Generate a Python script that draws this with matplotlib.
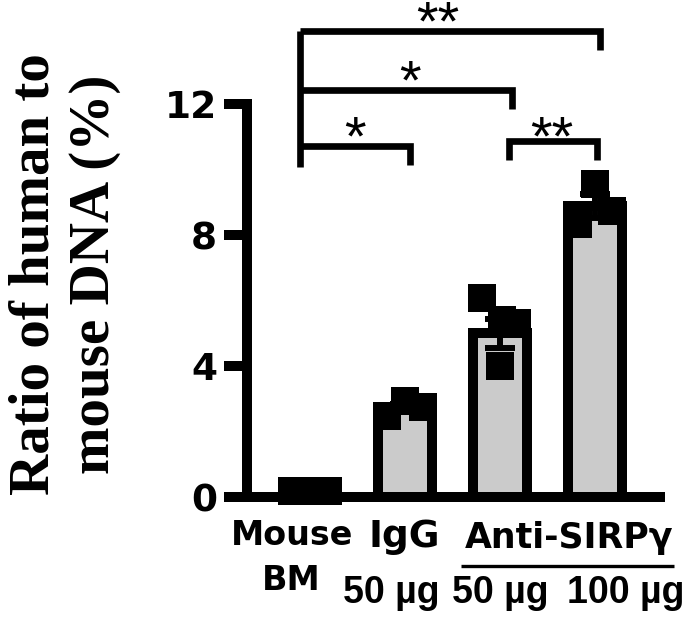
import matplotlib
matplotlib.use("Agg")
import matplotlib.pyplot as plt
import numpy as np

# ---------------- data ----------------
categories = ["Mouse BM", "IgG 50 µg", "Anti-SIRPγ 50 µg", "Anti-SIRPγ 100 µg"]
bar_means = [0.17, 2.72, 5.0, 8.88]
bar_sem = [0.03, 0.13, 0.45, 0.36]

pts_mouse = [0.17, 0.17, 0.17]
pts_igg = [2.47, 2.93, 2.75]
pts_anti50 = [6.08, 5.40, 5.31, 4.0]
pts_anti100 = [9.56, 8.34, 8.73]
points = [pts_mouse, pts_igg, pts_anti50, pts_anti100]
# horizontal jitter of points (category units)
jitter = [[-0.19, 0.0, 0.19],
          [-0.19, 0.0, 0.19],
          [-0.19, 0.02, 0.18, 0.0],
          [0.0, -0.18, 0.18]]

yticks = [0, 4, 8, 12]
sig_labels = ["*", "*", "**", "**"]

# ---------------- figure ----------------
W, H = 697, 628
fig = plt.figure(figsize=(W / 100, H / 100), dpi=100)
ax = fig.add_axes([224 / W, (H - 497) / H, 441 / W, 393 / H])

x = np.arange(len(categories))
ax.bar(x, bar_means, width=0.568, color="#cbcbcb", edgecolor="black",
       linewidth=7.2, zorder=2)
ax.errorbar(x, bar_means, yerr=bar_sem, fmt="none", ecolor="black",
            elinewidth=4.3, capsize=10.8, capthick=4.3, zorder=3)
for i, (vals, jit) in enumerate(zip(points, jitter)):
    ax.plot(np.array(jit) + x[i], vals, linestyle="none", marker="s",
            markersize=20, color="black", markeredgewidth=0, zorder=4,
            clip_on=False)

ax.set_xlim(-0.905, 3.737)
ax.set_ylim(0, 12)
ax.set_yticks(yticks)
ax.set_xticks([])
for s in ["top", "right"]:
    ax.spines[s].set_visible(False)
ax.spines["left"].set_position(("data", -0.663))
ax.spines["left"].set_linewidth(7.2)
ax.spines["bottom"].set_linewidth(7.2)
ax.spines["bottom"].set_capstyle("butt")
ax.tick_params(axis="y", length=16.6, width=7.2, pad=5, direction="out")
for lab in ax.get_yticklabels():
    lab.set_fontfamily("DejaVu Sans")
    lab.set_fontweight("bold")
    lab.set_fontsize(27)

# x category labels
sans_wide = dict(family="DejaVu Sans", fontweight="bold", ha="center",
                 va="baseline", clip_on=False)
sans_arial = dict(family="Liberation Sans", fontweight="bold", ha="center",
                  va="baseline", clip_on=False)
ax.text(x[0] - 0.19, -1.47, "Mouse", fontsize=24, **sans_wide)
ax.text(x[0] - 0.20, -2.84, "BM", fontsize=24, **sans_wide)
ax.text(x[1] - 0.01, -1.53, "IgG", fontsize=27, **sans_wide)
ax.text(x[1] - 0.14, -3.24, "50 µg", fontsize=27, **sans_arial)
ax.text(2.73, -1.56, "Anti-SIRPγ", fontsize=25, **sans_wide)
ax.plot([1.59, 3.83], [-2.11, -2.11], color="black", lw=2.4, clip_on=False,
        solid_capstyle="butt")
ax.text(x[2], -3.24, "50 µg", fontsize=27, **sans_arial)
ax.text(x[3] + 0.32, -3.24, "100 µg", fontsize=27, **sans_arial)

# significance brackets
blw = 4.8
ax.plot([-0.1, -0.1], [10.08, 14.23], color="black", lw=blw, clip_on=False,
        solid_capstyle="butt")
brackets = [(-0.1, 1.05, 10.72, 10.14),
            (-0.1, 2.13, 12.43, 11.85),
            (-0.1, 3.05, 14.23, 13.65),
            (2.10, 3.02, 10.87, 10.29)]
for (xl, xr, yt, yd), lab in zip(brackets, sig_labels):
    if xl == -0.1:
        ax.plot([xl, xr, xr], [yt, yt, yd], color="black", lw=blw,
                clip_on=False, solid_joinstyle="miter", solid_capstyle="butt")
    else:
        ax.plot([xl, xl, xr, xr], [yd, yt, yt, yd], color="black", lw=blw,
                clip_on=False, solid_joinstyle="miter", solid_capstyle="butt")
star_pos = [(0.47, 10.46), (1.05, 12.17), (1.35, 13.96), (2.55, 10.46)]
for (sx, sy), lab in zip(star_pos, sig_labels):
    ax.text(sx, sy, lab, fontsize=40, family="Liberation Sans", ha="center",
            va="baseline", clip_on=False)

# y label
fig.text(65 / W, 1 - 274 / H, "Ratio of human to\nmouse DNA (%)",
         rotation=90, ha="center", va="center", multialignment="center",
         family="Liberation Serif", fontweight="bold", fontsize=41)

fig.savefig("out.png", dpi=100)
